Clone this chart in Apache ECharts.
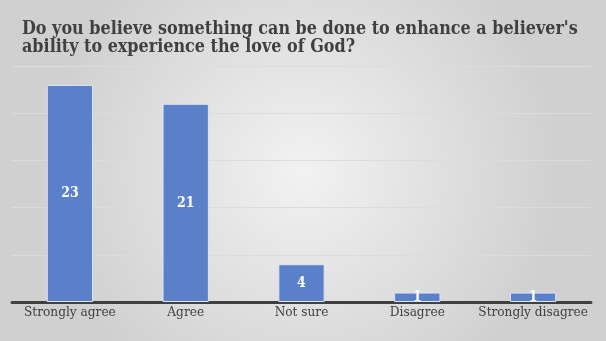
<!DOCTYPE html>
<html>
<head>
<meta charset="utf-8">
<script src="https://cdn.jsdelivr.net/npm/echarts@6/dist/echarts.min.js"></script>
<style>
  html, body { margin: 0; padding: 0; }
  #chart { width: 606px; height: 341px; }
</style>
</head>
<body>
<div id="chart"></div>
<script>
// Survey answers and how many respondents gave each
const categories = ['Strongly agree', 'Agree', 'Not sure', 'Disagree', 'Strongly disagree'];
const counts = [23, 21, 4, 1, 1];
const titleText = "Do you believe something can be done to enhance a believer's\nability to experience the love of God?";

const serif = "'DejaVu Serif Condensed', 'DejaVu Serif', serif";

const chart = echarts.init(document.getElementById('chart'));
chart.setOption({
  backgroundColor: {
    type: 'radial', x: 0.5, y: 0.5, r: 0.75,
    colorStops: [
      { offset: 0, color: '#f2f2f2' },
      { offset: 1, color: '#d0d0d0' }
    ]
  },
  title: {
    text: titleText,
    left: 22, top: 20,
    padding: 0,
    textStyle: {
      fontFamily: serif, fontWeight: 'bold', fontSize: 17.8,
      color: '#404040', lineHeight: 18
    }
  },
  grid: { left: 12, right: 15, top: 66, bottom: 39 },
  xAxis: {
    type: 'category',
    data: categories,
    axisTick: { show: false },
    axisLine: { lineStyle: { color: '#404040', width: 3 } },
    axisLabel: {
      interval: 0,
      fontFamily: serif, fontSize: 13.5, color: '#404040', margin: 3
    }
  },
  yAxis: {
    type: 'value', min: 0, max: 25, interval: 5,
    axisLabel: { show: false },
    axisLine: { show: false },
    axisTick: { show: false },
    splitLine: { lineStyle: { color: '#dcdcdc', width: 1 } }
  },
  series: [{
    type: 'bar',
    data: counts,
    barWidth: '40%',
    itemStyle: { color: '#5a80c9', borderColor: '#dfe6f3', borderWidth: 1 },
    label: {
      show: true, position: 'inside',
      fontFamily: serif, fontWeight: 'bold', fontSize: 14, color: '#ffffff'
    }
  }]
});
</script>
</body>
</html>
